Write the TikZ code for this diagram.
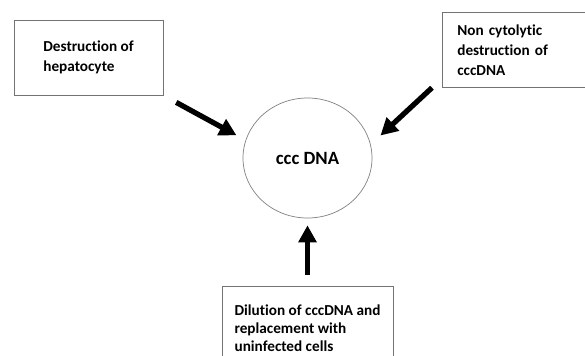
\documentclass[tikz,border=0pt]{standalone}
\usepackage{fontspec}
\setmainfont{Carlito}[Ligatures=NoCommon]
\usetikzlibrary{shapes.geometric,arrows.meta}
\begin{document}
\begin{tikzpicture}[x=0.03cm,y=-0.03cm,
	box/.style={draw=black!55, line width=0.6pt, align=left, font=\fontsize{13}{17}\selectfont\bfseries},
	arr/.style={line width=4.5pt, -{Triangle[length=14.5pt,width=15pt]}}]
	\useasboundingbox (0,0) rectangle (585,355);
	\clip (0,0) rectangle (585,355);
	\node[draw=black!50, line width=0.6pt, ellipse, minimum width=3.87cm, minimum height=3.6cm, inner sep=0pt, font=\fontsize{16}{19}\selectfont\bfseries] (C) at (307.5,158) {ccc DNA};
	\node[box, minimum width=4.47cm, minimum height=2.25cm] (H) at (88.5,57.5) {Destruction of\\hepatocyte};
	\node[box, anchor=north west, inner xsep=0.45cm, text width=4.2cm, minimum height=2.25cm] (N) at (442,12) {Non cytolytic\\destruction of\\cccDNA};
	\node[box, anchor=north, minimum width=5.13cm, minimum height=2.52cm, font=\fontsize{13}{15.5}\selectfont\bfseries] (D) at (307.5,286) {Dilution of cccDNA and\\replacement with\\uninfected cells};
	
	\draw[arr, shorten <=0.44cm, shorten >=0.31cm] (H.south east) -- (C.164);
	\draw[arr, shorten >=0.4cm] ([xshift=-0.3cm]N.south west) -- (C.12.6);
	\draw[arr, shorten <=0.33cm, shorten >=0.21cm] (D.north) -- (C.south);
\end{tikzpicture}
\end{document}
